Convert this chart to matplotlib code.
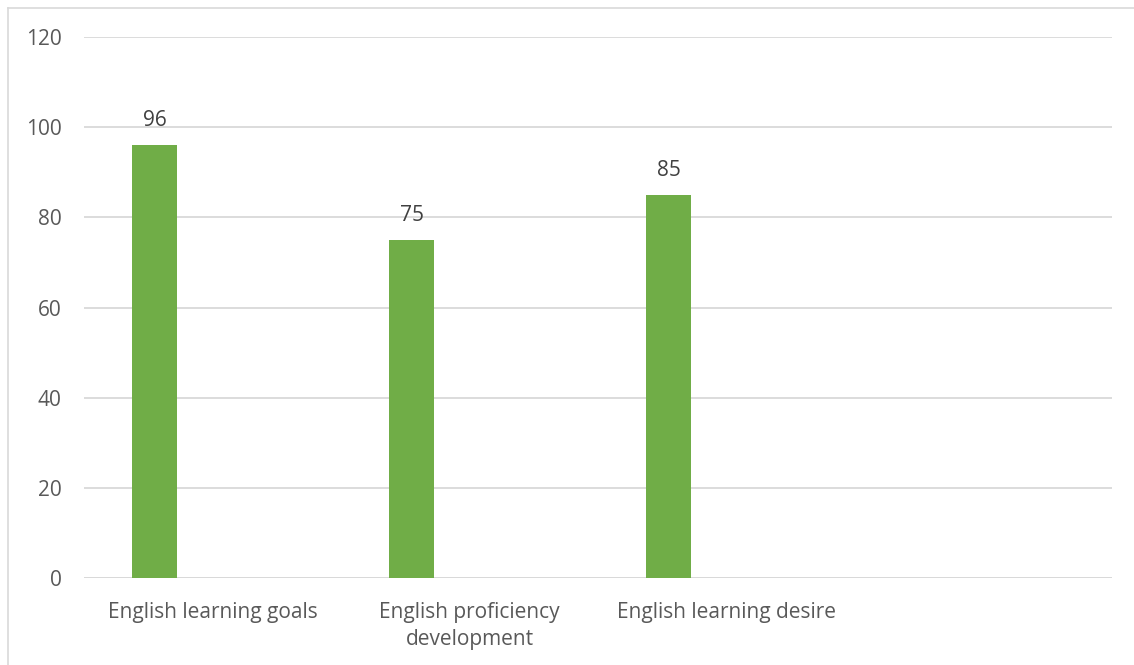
import numpy as np
import matplotlib.pyplot as plt
from matplotlib.lines import Line2D

categories = ["English learning goals", "English proficiency\ndevelopment",
              "English learning desire", ""]
values = [96, 75, 85]
yticks = [0, 20, 40, 60, 80, 100, 120]

plt.rcParams['font.family'] = ['Open Sans', 'DejaVu Sans']

W, H = 1134, 665
fig = plt.figure(figsize=(W / 100, H / 100), dpi=100)
ax = fig.add_axes([84 / W, 1 - 578 / H, (1112 - 84) / W, (578 - 37) / H])

# first series sits left of the category centre (other series are empty)
offset = -0.224
width = 0.175
x = np.arange(len(values))
bars = ax.bar(x + offset, values, width=width, color='#70ad47', zorder=3)
for xi, v in zip(x, values):
    ax.annotate(str(v), (xi + offset, v), xytext=(0, 10), textcoords='offset points',
                ha='center', va='bottom', fontsize=15, color='#404040')

ax.set_xlim(-0.5, len(categories) - 0.5)
ax.set_ylim(0, 120)
ax.set_yticks(yticks)
ax.set_xticks(np.arange(len(categories)))
ax.set_xticklabels(categories, fontsize=15, color='#595959', linespacing=1.38)
ax.tick_params(axis='y', labelsize=15, labelcolor='#595959', length=0, pad=16)
ax.tick_params(axis='x', length=0, pad=17)
ax.grid(axis='y', color='#d9d9d9', linewidth=1.3, zorder=0)
for s in ax.spines.values():
    s.set_visible(False)
ax.axhline(0, color='#d9d9d9', linewidth=1.3, zorder=2)

# chart area outline
fig.add_artist(Line2D([7.5 / W, 1], [1 - 7.5 / H] * 2, color='#d9d9d9', linewidth=1.2))
fig.add_artist(Line2D([7.5 / W] * 2, [0, 1 - 7.5 / H], color='#d9d9d9', linewidth=1.2))

fig.savefig('out.png', dpi=100)
